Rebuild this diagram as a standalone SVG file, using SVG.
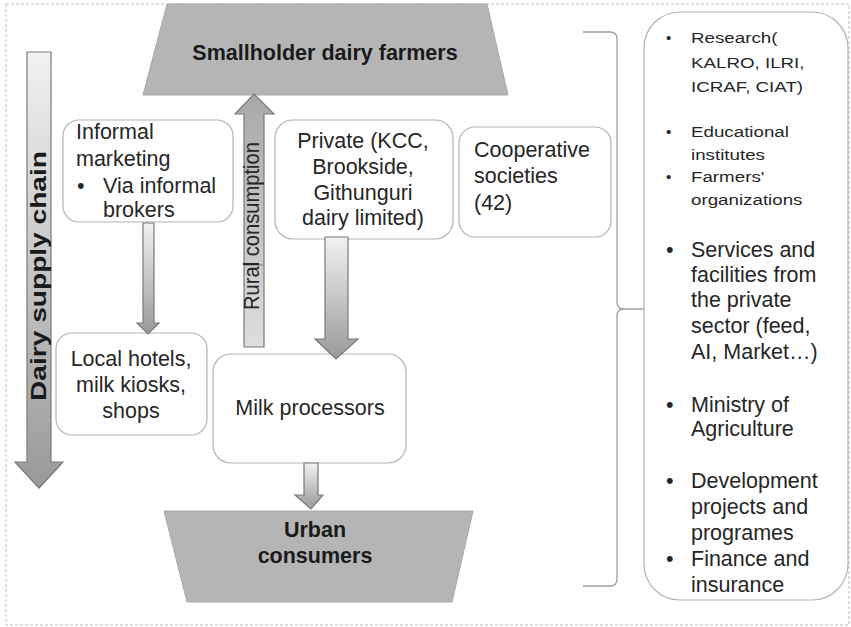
<svg xmlns="http://www.w3.org/2000/svg" width="851" height="627" viewBox="0 0 851 627">
<style>
.t{font-family:"Liberation Sans",Arial,sans-serif;font-size:21.5px;fill:#262626}
.tb{font-family:"Liberation Sans",Arial,sans-serif;font-size:21.5px;font-weight:bold;fill:#1a1a1a}
.sm{font-family:"Liberation Sans",Arial,sans-serif;font-size:15px;fill:#262626}
.box{fill:#fff;stroke:#b3b3b3;stroke-width:1.2}
.trap{fill:#b5b5b5;stroke:#a8a8a8;stroke-width:1}
.arr{stroke:#7a7a7a;stroke-width:1.2}
.c{text-anchor:middle}
</style>
<defs>
<linearGradient id="gDown" x1="0" y1="0" x2="0" y2="1">
<stop offset="0" stop-color="#f2f2f2"/><stop offset="1" stop-color="#999"/>
</linearGradient>
<linearGradient id="gUp" x1="0" y1="0" x2="0" y2="1">
<stop offset="0" stop-color="#a8a8a8"/><stop offset="1" stop-color="#dedede"/>
</linearGradient>
</defs>
<rect x="6" y="4" width="843" height="621" fill="#fff" stroke="#bdbdbd" stroke-width="1" stroke-dasharray="3,2"/>

<g id="farmers">
<polygon class="trap" points="167,4 487,4 508,95 143,95"/>
<text class="tb c" x="325" y="60">Smallholder dairy farmers</text>
</g>

<g id="urban">
<polygon class="trap" points="164,511 473,511 452,602 187,602"/>
<text class="tb c" x="315" y="537">Urban</text>
<text class="tb c" x="315" y="563">consumers</text>
</g>

<g id="informal">
<rect class="box" x="63" y="120" width="170" height="102" rx="16"/>
<text class="t" x="76" y="139">Informal</text>
<text class="t" x="76" y="166">marketing</text>
<text class="t" x="77" y="193">•</text>
<text class="t" x="103" y="193">Via informal</text>
<text class="t" x="103" y="217">brokers</text>
</g>

<g id="private">
<rect class="box" x="275" y="120" width="178" height="119" rx="18"/>
<text class="t c" x="363" y="148">Private (KCC,</text>
<text class="t c" x="363" y="174">Brookside,</text>
<text class="t c" x="363" y="200">Githunguri</text>
<text class="t c" x="363" y="225">dairy limited)</text>
</g>

<g id="cooperative">
<rect class="box" x="459" y="127" width="152" height="110" rx="16"/>
<text class="t" x="474" y="157">Cooperative</text>
<text class="t" x="474" y="183">societies</text>
<text class="t" x="474" y="210">(42)</text>
</g>

<g id="local">
<rect class="box" x="56" y="333" width="151" height="102" rx="16"/>
<text class="t c" x="131" y="366">Local hotels,</text>
<text class="t c" x="131" y="392">milk kiosks,</text>
<text class="t c" x="131" y="418">shops</text>
</g>

<g id="processors">
<rect class="box" x="213" y="354" width="193" height="109" rx="18"/>
<text class="t c" x="310" y="415">Milk processors</text>
</g>

<g id="support">
<path d="M583,32 L610,32 Q617,32 617,39 L617,302 Q617,309 624,309 L652,309 M624,309 Q617,309 617,316 L617,579 Q617,586 610,586 L583,586" fill="none" stroke="#a0a0a0" stroke-width="1.3"/>
<rect class="box" x="644" y="12" width="204" height="588" rx="36"/>
<g class="t">
<text x="666" y="43" class="sm">•</text>
<text x="666" y="137" class="sm">•</text>
<text x="666" y="182" class="sm">•</text>
<text x="666" y="257">•</text>
<text x="666" y="412">•</text>
<text x="666" y="488">•</text>
<text x="666" y="566">•</text>
</g>
<g transform="translate(691 0) scale(1.25 1)">
<text class="sm" x="0" y="43">Research(</text>
<text class="sm" x="0" y="68">KALRO, ILRI,</text>
<text class="sm" x="0" y="92">ICRAF, CIAT)</text>
<text class="sm" x="0" y="137">Educational</text>
<text class="sm" x="0" y="160">institutes</text>
<text class="sm" x="0" y="182">Farmers'</text>
<text class="sm" x="0" y="205">organizations</text>
</g>
<text class="t" x="691" y="257">Services and</text>
<text class="t" x="691" y="282">facilities from</text>
<text class="t" x="691" y="307">the private</text>
<text class="t" x="691" y="333">sector (feed,</text>
<text class="t" x="691" y="359">AI, Market…)</text>
<text class="t" x="691" y="412">Ministry of</text>
<text class="t" x="691" y="436">Agriculture</text>
<text class="t" x="691" y="488">Development</text>
<text class="t" x="691" y="514">projects and</text>
<text class="t" x="691" y="540">programes</text>
<text class="t" x="691" y="566">Finance and</text>
<text class="t" x="691" y="592">insurance</text>
</g>

<g id="connectors">
<g id="supply-chain">
<polygon class="arr" fill="url(#gDown)" points="27,52 51,52 51,462 63,462 39,488 15,462 27,462"/>
<text class="tb" font-size="19" text-anchor="middle" textLength="250" lengthAdjust="spacingAndGlyphs" transform="translate(46 276) rotate(-90)" x="0" y="0">Dairy supply chain</text>
</g>
<g id="rural">
<polygon class="arr" fill="url(#gUp)" points="254,94 274,114 264,114 264,347 244,347 244,114 235,114"/>
<line x1="244.5" y1="265" x2="263.5" y2="265" stroke="#7a7a7a" stroke-width="1"/>
<text class="t" font-size="16" text-anchor="middle" textLength="168" lengthAdjust="spacingAndGlyphs" transform="translate(259 226) rotate(-90)" x="0" y="0">Rural consumption</text>
</g>
<polygon class="arr" fill="url(#gDown)" points="143,223 154,223 154,323 159,323 148,334 137,323 143,323"/>
<polygon class="arr" fill="url(#gDown)" points="325,237 348,237 348,339 358,339 336,359 315,339 325,339"/>
<polygon class="arr" fill="url(#gDown)" points="304,463 318,463 318,495 323,495 311,509 295,495 304,495"/>
</g>
</svg>
